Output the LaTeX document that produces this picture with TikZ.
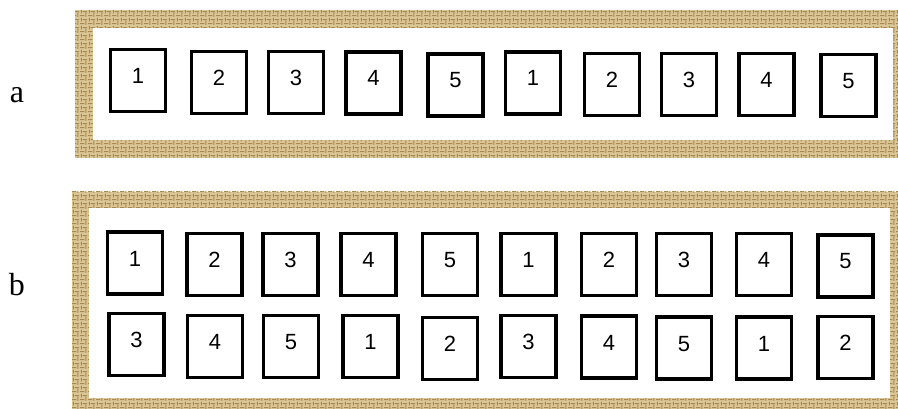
\documentclass[tikz,border=0pt]{standalone}
\usepackage{fontspec}
\newfontfamily\cardfont{Liberation Sans}
\newfontfamily\labelfont{Liberation Serif}
\usetikzlibrary{patterns}
\definecolor{burlap}{RGB}{218,198,150}
\definecolor{burlapdark}{RGB}{168,136,78}
% coarse weave for the frames
\pgfdeclarepatternformonly{weave}{\pgfqpoint{0pt}{0pt}}{\pgfqpoint{8pt}{8pt}}{\pgfqpoint{8pt}{8pt}}{
  \pgfsetlinewidth{1.2pt}
  \pgfpathmoveto{\pgfqpoint{0pt}{1.5pt}}\pgfpathlineto{\pgfqpoint{5pt}{1.5pt}}
  \pgfpathmoveto{\pgfqpoint{6.5pt}{0pt}}\pgfpathlineto{\pgfqpoint{6.5pt}{5pt}}
  \pgfpathmoveto{\pgfqpoint{1.5pt}{4pt}}\pgfpathlineto{\pgfqpoint{1.5pt}{8pt}}
  \pgfpathmoveto{\pgfqpoint{3pt}{6pt}}\pgfpathlineto{\pgfqpoint{8pt}{6pt}}
  \pgfusepath{stroke}}
\begin{document}
\begin{tikzpicture}[x=1pt, y=-1pt,
  card/.style={draw, line width=3.3pt, fill=white, minimum width=55pt, minimum height=62pt,
    inner sep=0pt, font=\cardfont\fontsize{22}{22}\selectfont, text height=16pt, text depth=10pt},
  rowlabel/.style={inner sep=0pt, font=\labelfont\fontsize{32}{32}\selectfont},
  frame/.style={fill=burlap, postaction={pattern=weave, pattern color=burlapdark}}]
  \useasboundingbox (0,0) rectangle (898,409);
  % burlap frames
  \path[frame] (75,10) rectangle (898,158);
  \fill[white] (93,28) rectangle (893,140);
  \path[frame] (72,192) rectangle (898,409);
  \fill[white] (89,208) rectangle (890,398);
  \node[rowlabel] (la) at (17,95) {a};
  \node[rowlabel] (lb) at (17,285) {b};
  % row a
  \node[card] (a1) at (138,80.5) {1};
  \node[card] (a2) at (219,82.5) {2};
  \node[card] (a3) at (296,82.5) {3};
  \node[card] (a4) at (373.5,83) {4};
  \node[card] (a5) at (455.5,85) {5};
  \node[card] (a6) at (533,83) {1};
  \node[card] (a7) at (612,84.5) {2};
  \node[card] (a8) at (689,84.5) {3};
  \node[card] (a9) at (766.5,84.5) {4};
  \node[card] (a10) at (848.5,85.5) {5};
  % row b, top
  \node[card] (b1) at (135,263) {1};
  \node[card] (b2) at (214.5,264.5) {2};
  \node[card] (b3) at (290.5,264.5) {3};
  \node[card] (b4) at (368.5,264.5) {4};
  \node[card] (b5) at (450,264.5) {5};
  \node[card] (b6) at (528.5,264.5) {1};
  \node[card] (b7) at (609,264.5) {2};
  \node[card] (b8) at (684,264.5) {3};
  \node[card] (b9) at (764,264.5) {4};
  \node[card] (b10) at (845.5,266) {5};
  % row b, bottom
  \node[card] (c1) at (136.5,344.5) {3};
  \node[card] (c2) at (215,346.5) {4};
  \node[card] (c3) at (291,346.5) {5};
  \node[card] (c4) at (370.5,346.5) {1};
  \node[card] (c5) at (450,348.5) {2};
  \node[card] (c6) at (528.5,346.5) {3};
  \node[card] (c7) at (609,347) {4};
  \node[card] (c8) at (684,348) {5};
  \node[card] (c9) at (764,348) {1};
  \node[card] (c10) at (845.5,347.5) {2};
\end{tikzpicture}
\end{document}
